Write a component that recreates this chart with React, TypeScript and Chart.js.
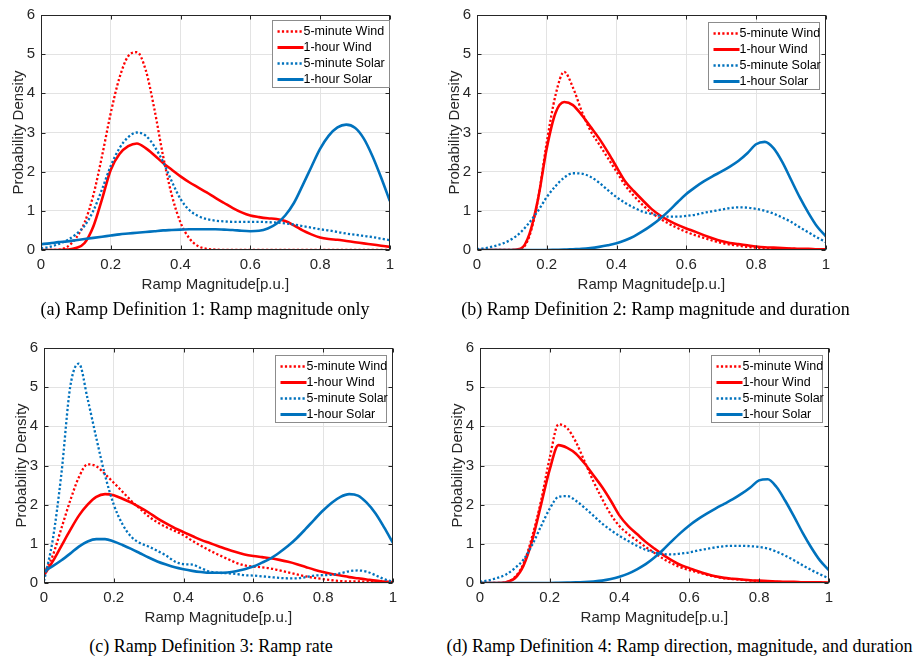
import React, { useEffect, useRef } from 'react';
import { Chart, registerables } from 'chart.js';

Chart.register(...registerables);

// ---------- data ----------
const xs = [0, 0.025, 0.05, 0.075, 0.1, 0.125, 0.15, 0.175, 0.2, 0.225, 0.25, 0.275, 0.3, 0.325, 0.35, 0.375, 0.4, 0.425, 0.45, 0.475, 0.5, 0.525, 0.55, 0.575, 0.6, 0.625, 0.65, 0.675, 0.7, 0.725, 0.75, 0.775, 0.8, 0.825, 0.85, 0.875, 0.9, 0.925, 0.95, 0.975, 1];

const seriesLabels = ['5-minute Wind', '1-hour Wind', '5-minute Solar', '1-hour Solar'];
const xTickLabels = ['0', '0.2', '0.4', '0.6', '0.8', '1'];
const yTickLabels = ['0', '1', '2', '3', '4', '5', '6'];
const xAxisTitle = 'Ramp Magnitude[p.u.]';
const yAxisTitle = 'Probability Density';
const captions = [
  '(a) Ramp Definition 1: Ramp magnitude only',
  '(b) Ramp Definition 2: Ramp magnitude and duration',
  '(c) Ramp Definition 3: Ramp rate',
  '(d) Ramp Definition 4: Ramp direction, magnitude, and duration',
];

// (a)
const aWind5 = [0, 0, 0.01, 0.08, 0.3, 0.7, 1.4, 2.4, 3.5, 4.4, 4.95, 5.05, 4.6, 3.6, 2.4, 1.4, 0.7, 0.3, 0.1, 0.03, 0.01, 0, 0, 0, 0, 0, 0, 0, 0, 0, 0, 0, 0, 0, 0, 0, 0, 0, 0, 0, 0];
const aWind60 = [0, 0, 0, 0.01, 0.05, 0.18, 0.6, 1.3, 2.05, 2.45, 2.65, 2.72, 2.6, 2.42, 2.22, 2.05, 1.88, 1.73, 1.6, 1.47, 1.33, 1.2, 1.07, 0.96, 0.88, 0.84, 0.81, 0.79, 0.74, 0.63, 0.5, 0.4, 0.32, 0.28, 0.26, 0.23, 0.2, 0.17, 0.14, 0.11, 0.08];
const aSolar5 = [0.05, 0.08, 0.15, 0.25, 0.4, 0.62, 1.0, 1.55, 2.15, 2.6, 2.88, 3.0, 2.92, 2.65, 2.25, 1.75, 1.3, 1.02, 0.87, 0.79, 0.75, 0.73, 0.72, 0.72, 0.72, 0.72, 0.71, 0.7, 0.68, 0.65, 0.61, 0.57, 0.53, 0.5, 0.46, 0.42, 0.39, 0.36, 0.33, 0.29, 0.25];
const aSolar60 = [0.15, 0.17, 0.2, 0.22, 0.25, 0.28, 0.31, 0.34, 0.37, 0.4, 0.42, 0.44, 0.46, 0.48, 0.5, 0.51, 0.52, 0.53, 0.53, 0.53, 0.53, 0.52, 0.51, 0.49, 0.48, 0.49, 0.55, 0.67, 0.88, 1.2, 1.65, 2.12, 2.58, 2.92, 3.13, 3.2, 3.12, 2.85, 2.4, 1.85, 1.25];

// (b)
const bWind5 = [0, 0, 0, 0, 0, 0.02, 0.35, 1.3, 2.75, 3.95, 4.55, 4.15, 3.55, 3.05, 2.7, 2.35, 2.0, 1.65, 1.38, 1.15, 0.95, 0.8, 0.67, 0.56, 0.46, 0.38, 0.31, 0.24, 0.18, 0.14, 0.11, 0.08, 0.06, 0.05, 0.04, 0.03, 0.03, 0.02, 0.02, 0.01, 0.01];
const bWind60 = [0, 0, 0, 0, 0, 0.03, 0.4, 1.3, 2.6, 3.5, 3.78, 3.7, 3.45, 3.15, 2.85, 2.5, 2.12, 1.75, 1.5, 1.27, 1.05, 0.88, 0.75, 0.64, 0.55, 0.47, 0.38, 0.3, 0.23, 0.18, 0.15, 0.12, 0.09, 0.07, 0.06, 0.05, 0.04, 0.03, 0.03, 0.02, 0.02];
const bSolar5 = [0.02, 0.05, 0.1, 0.17, 0.28, 0.45, 0.7, 1.0, 1.35, 1.63, 1.85, 1.96, 1.95, 1.87, 1.72, 1.53, 1.35, 1.2, 1.08, 0.98, 0.92, 0.87, 0.85, 0.85, 0.87, 0.9, 0.95, 0.99, 1.03, 1.07, 1.09, 1.08, 1.05, 1.0, 0.93, 0.83, 0.72, 0.58, 0.45, 0.32, 0.2];
const bSolar60 = [0, 0, 0, 0, 0, 0, 0, 0, 0, 0.005, 0.01, 0.02, 0.03, 0.05, 0.08, 0.12, 0.17, 0.25, 0.35, 0.48, 0.63, 0.8, 1.0, 1.22, 1.43, 1.6, 1.75, 1.88, 2.0, 2.13, 2.28, 2.47, 2.7, 2.76, 2.6, 2.25, 1.8, 1.35, 0.95, 0.6, 0.35];

// (c)
const cWind5 = [0.25, 0.7, 1.4, 2.1, 2.7, 3.03, 2.98, 2.78, 2.56, 2.33, 2.1, 1.9, 1.7, 1.55, 1.43, 1.33, 1.22, 1.08, 0.95, 0.83, 0.72, 0.62, 0.52, 0.45, 0.42, 0.4, 0.37, 0.32, 0.27, 0.22, 0.17, 0.13, 0.1, 0.07, 0.05, 0.04, 0.04, 0.03, 0.03, 0.02, 0.02];
const cWind60 = [0.2, 0.55, 0.95, 1.35, 1.72, 2.0, 2.2, 2.27, 2.24, 2.15, 2.05, 1.93, 1.8, 1.65, 1.52, 1.4, 1.3, 1.2, 1.1, 1.02, 0.94, 0.86, 0.79, 0.73, 0.69, 0.66, 0.63, 0.59, 0.54, 0.48, 0.41, 0.34, 0.28, 0.23, 0.19, 0.15, 0.12, 0.09, 0.06, 0.04, 0.02];
const cSolar5 = [0.05, 1.1, 2.8, 5.0, 5.6, 4.7, 3.7, 2.75, 2.0, 1.5, 1.18, 1.02, 0.93, 0.82, 0.7, 0.55, 0.48, 0.47, 0.38, 0.29, 0.26, 0.25, 0.23, 0.2, 0.19, 0.17, 0.15, 0.13, 0.12, 0.12, 0.15, 0.19, 0.2, 0.21, 0.25, 0.3, 0.32, 0.29, 0.2, 0.1, 0.03];
const cSolar60 = [0.3, 0.43, 0.58, 0.75, 0.93, 1.06, 1.12, 1.12, 1.06, 0.97, 0.87, 0.76, 0.65, 0.55, 0.47, 0.4, 0.35, 0.31, 0.28, 0.26, 0.26, 0.27, 0.3, 0.35, 0.42, 0.52, 0.63, 0.78, 0.95, 1.15, 1.38, 1.62, 1.85, 2.05, 2.2, 2.27, 2.23, 2.05, 1.78, 1.42, 1.03];

// (d)
const dWind5 = [0, 0, 0, 0.02, 0.15, 0.5, 1.2, 2.1, 3.2, 4.05, 3.95, 3.6, 3.1, 2.6, 2.15, 1.75, 1.45, 1.25, 1.08, 0.92, 0.77, 0.62, 0.5, 0.4, 0.33, 0.27, 0.21, 0.16, 0.12, 0.1, 0.08, 0.06, 0.05, 0.04, 0.03, 0.02, 0.02, 0.01, 0.01, 0.01, 0.01];
const dWind60 = [0, 0, 0, 0.02, 0.12, 0.45, 1.1, 2.0, 2.9, 3.52, 3.45, 3.3, 3.05, 2.75, 2.45, 2.1, 1.72, 1.45, 1.25, 1.05, 0.88, 0.72, 0.58, 0.46, 0.38, 0.3, 0.23, 0.17, 0.13, 0.11, 0.09, 0.07, 0.06, 0.05, 0.04, 0.03, 0.03, 0.02, 0.02, 0.02, 0.01];
const dSolar5 = [0.03, 0.07, 0.13, 0.22, 0.38, 0.6, 0.98, 1.45, 1.9, 2.2, 2.22, 2.1, 1.92, 1.72, 1.52, 1.35, 1.2, 1.07, 0.95, 0.85, 0.78, 0.74, 0.73, 0.75, 0.78, 0.83, 0.87, 0.91, 0.94, 0.95, 0.95, 0.94, 0.92, 0.88, 0.8, 0.7, 0.58, 0.45, 0.33, 0.22, 0.12];
const dSolar60 = [0, 0, 0, 0, 0, 0, 0, 0, 0, 0.005, 0.01, 0.015, 0.025, 0.04, 0.06, 0.1, 0.16, 0.24, 0.35, 0.48, 0.65, 0.85, 1.07, 1.28, 1.47, 1.63, 1.77, 1.9, 2.02, 2.14, 2.28, 2.44, 2.62, 2.65, 2.45, 2.1, 1.7, 1.28, 0.9, 0.57, 0.33];

// ---------- styles ----------
const SANS = "'Liberation Sans', Arial, Helvetica, sans-serif";
const SERIF = "'Liberation Serif', 'Times New Roman', serif";
const RED = '#FF0000';
const BLUE = '#0072BD';
const AXIS = '#262626';
const GRID = '#e3e3e3';

const seriesStyles = [
  { color: RED, dash: [2.2, 2.2], width: 2.3 },
  { color: RED, dash: [] as number[], width: 2.6 },
  { color: BLUE, dash: [2.2, 2.2], width: 2.3 },
  { color: BLUE, dash: [] as number[], width: 2.6 },
];

const matlabBox = {
  id: 'matlabBox',
  afterDatasetsDraw(chart: any, _args: any, opts: any) {
    const { ctx, chartArea: a, scales } = chart;
    const x = scales.x;
    const y = scales.y;
    ctx.save();
    ctx.strokeStyle = AXIS;
    ctx.lineWidth = 1;
    ctx.setLineDash([]);
    const L = Math.round(a.left) + 0.5;
    const R = Math.round(a.right) - 0.5;
    const T = Math.round(a.top) + 0.5;
    const B = Math.round(a.bottom) - 0.5;
    const tl = 4;
    ctx.beginPath();
    x.ticks.forEach((t: any) => {
      const px = Math.round(x.getPixelForValue(t.value)) + 0.5;
      ctx.moveTo(px, B); ctx.lineTo(px, B - tl);
      ctx.moveTo(px, T); ctx.lineTo(px, T + tl);
    });
    y.ticks.forEach((t: any) => {
      const py = Math.round(y.getPixelForValue(t.value)) + 0.5;
      ctx.moveTo(L, py); ctx.lineTo(L + tl, py);
      ctx.moveTo(R, py); ctx.lineTo(R - tl, py);
    });
    ctx.stroke();
    ctx.strokeRect(L, T, R - L, B - T);

    // legend
    const bx = Math.round(a.right - 118) + 0.5;
    const by = Math.round(a.top + opts.legendTop) + 0.5;
    const bw = opts.legendWidth;
    const bh = 67;
    ctx.fillStyle = '#ffffff';
    ctx.fillRect(bx, by, bw, bh);
    ctx.strokeStyle = '#8c8c8c';
    ctx.strokeRect(bx, by, bw, bh);
    chart.data.datasets.forEach((ds: any, i: number) => {
      const cy = by + 11 + i * 16;
      ctx.strokeStyle = ds.borderColor;
      const dashed = ds.borderDash && ds.borderDash.length;
      ctx.lineWidth = dashed ? 2.3 : 3;
      ctx.setLineDash(dashed ? ds.borderDash : []);
      ctx.beginPath();
      ctx.moveTo(bx + 5, cy);
      ctx.lineTo(bx + 31, cy);
      ctx.stroke();
      ctx.setLineDash([]);
      ctx.fillStyle = '#000000';
      ctx.font = `12.5px ${SANS}`;
      ctx.textBaseline = 'middle';
      ctx.textAlign = 'left';
      ctx.fillText(ds.label, bx + 31, cy + 0.5);
    });
    ctx.restore();
  },
};

type PanelProps = {
  series: number[][];
  left: number;
  top: number;
  legendWidth: number;
  legendTop: number;
};

function Panel({ series, left, top, legendWidth, legendTop }: PanelProps) {
  const ref = useRef<HTMLCanvasElement>(null);
  useEffect(() => {
    const datasets = series.map((vals, i) => ({
      label: seriesLabels[i],
      data: xs.map((xv, k) => ({ x: xv, y: vals[k] })),
      borderColor: seriesStyles[i].color,
      backgroundColor: seriesStyles[i].color,
      borderDash: seriesStyles[i].dash,
      borderWidth: seriesStyles[i].width,
      pointRadius: 0,
      fill: false,
      cubicInterpolationMode: 'monotone' as const,
      order: 3 - i,
    }));
    const chart = new Chart(ref.current as HTMLCanvasElement, {
      type: 'line',
      data: { datasets },
      plugins: [matlabBox],
      options: {
        animation: false,
        responsive: false,
        maintainAspectRatio: false,
        layout: { padding: { top: 12, right: 9.5, left: 0, bottom: 0 } },
        plugins: {
          legend: { display: false },
          tooltip: { enabled: false },
          // @ts-ignore
          matlabBox: { legendWidth, legendTop },
        },
        scales: {
          x: {
            type: 'linear',
            min: 0,
            max: 1,
            ticks: {
              stepSize: 0.2,
              padding: 6,
              color: AXIS,
              font: { family: SANS, size: 15 },
              maxRotation: 0,
              callback: (_v: any, i: number) => xTickLabels[i],
            },
            grid: { color: GRID, drawTicks: false, lineWidth: 1 },
            border: { display: false },
            title: {
              display: true,
              text: xAxisTitle,
              color: AXIS,
              font: { family: SANS, size: 15 },
              padding: { top: 0, bottom: 6 },
            },
            afterFit: (s: any) => { s.height = 50; },
          },
          y: {
            type: 'linear',
            min: 0,
            max: 6,
            ticks: {
              stepSize: 1,
              padding: 6,
              color: AXIS,
              font: { family: SANS, size: 15 },
              callback: (_v: any, i: number) => yTickLabels[i],
            },
            grid: { color: GRID, drawTicks: false, lineWidth: 1 },
            border: { display: false },
            title: {
              display: true,
              text: yAxisTitle,
              color: AXIS,
              font: { family: SANS, size: 15 },
              padding: { top: 10, bottom: 0 },
            },
            afterFit: (s: any) => { s.width = 41; },
          },
        },
      } as any,
    });
    return () => chart.destroy();
  }, []);
  return (
    <canvas
      ref={ref}
      width={400}
      height={300}
      style={{ position: 'absolute', left, top, width: 400, height: 300 }}
    />
  );
}

function Caption({ text, cx, top }: { text: string; cx: number; top: number }) {
  return (
    <div
      style={{
        position: 'absolute',
        left: cx - 300,
        top,
        width: 600,
        textAlign: 'center',
        fontFamily: SERIF,
        fontSize: 18,
        lineHeight: '20px',
        color: '#000',
        whiteSpace: 'nowrap',
      }}
    >
      {text}
    </div>
  );
}

export default function App() {
  return (
    <div style={{ position: 'absolute', left: 0, top: 0, width: 919, height: 658, background: '#fff', overflow: 'hidden' }}>
      <Panel series={[aWind5, aWind60, aSolar5, aSolar60]} left={0} top={0} legendWidth={117} legendTop={5} />
      <Panel series={[bWind5, bWind60, bSolar5, bSolar60]} left={436} top={0} legendWidth={111} legendTop={7} />
      <Panel series={[cWind5, cWind60, cSolar5, cSolar60]} left={3} top={333} legendWidth={111} legendTop={7} />
      <Panel series={[dWind5, dWind60, dSolar5, dSolar60]} left={439} top={333} legendWidth={111} legendTop={7} />
      <Caption text={captions[0]} cx={205} top={299} />
      <Caption text={captions[1]} cx={655.5} top={299} />
      <Caption text={captions[2]} cx={211} top={636} />
      <Caption text={captions[3]} cx={679.5} top={636} />
    </div>
  );
}
